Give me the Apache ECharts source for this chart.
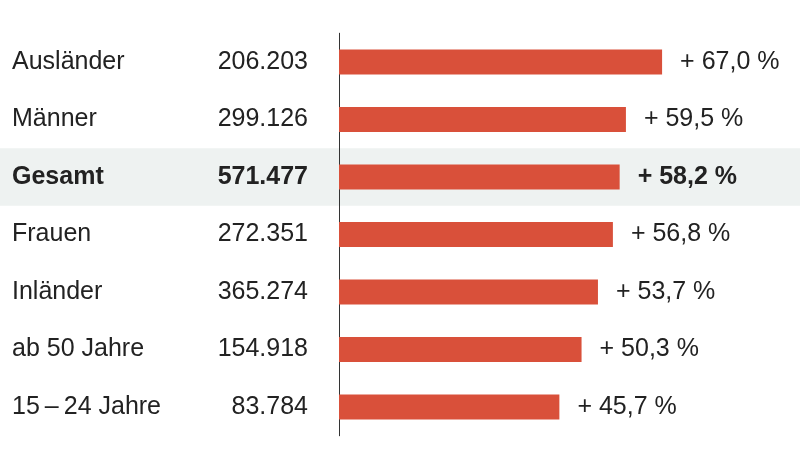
<!DOCTYPE html>
<html>
<head>
<meta charset="utf-8">
<script src="https://cdn.jsdelivr.net/npm/echarts@6/dist/echarts.min.js"></script>
<style>
  html, body { margin: 0; padding: 0; background: #fff; }
  #chart { width: 800px; height: 452px; }
</style>
</head>
<body>
<div id="chart"></div>
<script>
// Kategorien (von oben nach unten)
var categories = ["Ausländer", "Männer", "Gesamt", "Frauen", "Inländer", "ab 50 Jahre", "15\u2009–\u200924 Jahre"];
// absolute Zahlen (Spalte links)
var counts = ["206.203", "299.126", "571.477", "272.351", "365.274", "154.918", "83.784"];
// Veränderung in %
var changes = [67.0, 59.5, 58.2, 56.8, 53.7, 50.3, 45.7];
var highlight = "Gesamt";

var hlIndex = categories.indexOf(highlight);
var font = "Liberation Sans, Arial, sans-serif";
var fs = 25;

var myChart = echarts.init(document.getElementById("chart"));

var bandColors = categories.map(function (c) {
  return c === highlight ? "#eef2f1" : "rgba(255,255,255,0)";
});

var barData = changes.map(function (v, i) {
  var item = { value: v };
  if (i === hlIndex) {
    item.label = { fontWeight: "bold" };
  }
  return item;
});

var option = {
  animation: false,
  textStyle: { fontFamily: font },
  grid: [
    { left: 339, right: 27, top: 33.25, height: 402.5 },
    // ganze Breite, nur für den grauen Streifen
    { left: 0, right: 0, top: 33.25, height: 402.5 }
  ],
  xAxis: [
    { type: "value", gridIndex: 0, min: 0, max: 90, show: false },
    { type: "value", gridIndex: 1, min: 0, max: 1, show: false }
  ],
  yAxis: [
    {
      type: "category",
      gridIndex: 0,
      inverse: true,
      data: categories,
      axisLine: { show: true, lineStyle: { color: "#333", width: 1 } },
      axisTick: { show: false },
      axisLabel: {
        align: "left",
        margin: 327,
        color: "#222",
        fontSize: fs,
        fontFamily: font,
        formatter: function (value, index) {
          if (index === hlIndex) {
            return "{nb|" + value + "}{vb|" + counts[index] + "}";
          }
          return "{n|" + value + "}{v|" + counts[index] + "}";
        },
        rich: {
          n: { width: 186, align: "left", fontSize: fs, color: "#222", fontFamily: font },
          v: { width: 110, align: "right", fontSize: fs, color: "#222", fontFamily: font },
          nb: { width: 186, align: "left", fontSize: fs, color: "#222", fontWeight: "bold", fontFamily: font },
          vb: { width: 110, align: "right", fontSize: fs, color: "#222", fontWeight: "bold", fontFamily: font }
        }
      }
    },
    {
      type: "category",
      gridIndex: 1,
      inverse: true,
      data: categories,
      axisLine: { show: false },
      axisTick: { show: false },
      axisLabel: { show: false },
      splitArea: { show: true, areaStyle: { color: bandColors } }
    }
  ],
  series: [
    {
      type: "bar",
      xAxisIndex: 0,
      yAxisIndex: 0,
      barWidth: 25,
      itemStyle: { color: "#d9503a" },
      label: {
        show: true,
        position: "right",
        distance: 18,
        fontSize: fs,
        color: "#222",
        fontFamily: font,
        formatter: function (p) {
          return "+ " + p.value.toFixed(1).replace(".", ",") + " %";
        }
      },
      data: barData
    }
  ]
};

option && myChart.setOption(option);
</script>
</body>
</html>
